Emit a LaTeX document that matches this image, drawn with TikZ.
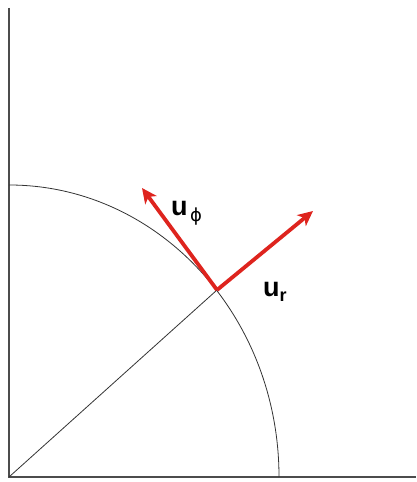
\documentclass[tikz,border=0pt]{standalone}
\usepackage{fontspec}
\setmainfont{Liberation Sans}
\newfontfamily\greekfont{DejaVu Sans}
\usetikzlibrary{arrows.meta}
\definecolor{vecred}{RGB}{222,36,30}

\begin{document}
\begin{tikzpicture}[
  x=1pt, y=1pt,
  axis/.style={draw=black!70, line width=1.3pt},
  thin/.style={draw=black!80, line width=0.8pt},
  vec/.style={draw=vecred, line width=3.8pt, -{Stealth[length=15pt, width=14pt, inset=4pt]}},
  lbl/.style={font=\fontsize{27}{27}\selectfont\bfseries, inner sep=0pt},
  sub/.style={font=\fontsize{18}{18}\selectfont\greekfont, inner sep=0pt}
]
  \useasboundingbox (0,0) rectangle (416,482);

  \coordinate (O) at (9,5);
  \coordinate (ytop) at (9,474);
  \coordinate (xend) at (416,5);
  \coordinate (P) at (217,192);
  \coordinate (rtip) at (313,271);
  \coordinate (ftip) at (142,294);

  % axes
  \draw[axis] (ytop) -- (O) -- (xend);

  % quarter of the circle and the radius
  \draw[thin] (279,5) arc[start angle=0, end angle=90, x radius=270, y radius=292];
  \draw[thin] (O) -- (P);

  % unit vectors
  \draw[vec] (P) -- (rtip);
  \draw[vec] (P) -- (ftip);

  \node[lbl, anchor=base west] (ur) at (263,185) {u\raisebox{-5pt}{\fontsize{18}{18}\selectfont r}};
  \node[lbl, anchor=base west] (uf) at (171,266) {u};
  \node[sub, anchor=base west] (phi) at (uf.base east) [xshift=2pt, yshift=-6pt] {ϕ};
\end{tikzpicture}
\end{document}
